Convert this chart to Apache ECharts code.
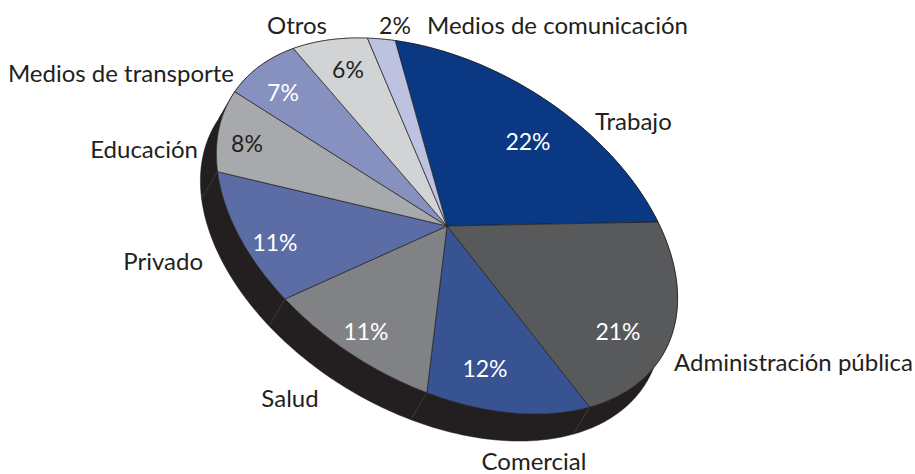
<!DOCTYPE html>
<html>
<head>
<meta charset="utf-8">
<script src="https://cdn.jsdelivr.net/npm/echarts@6/dist/echarts.min.js"></script>
<style>
html, body { margin: 0; padding: 0; background: #fff; }
#main { width: 915px; height: 474px; }
text { font-variant-numeric: oldstyle-nums; font-feature-settings: "onum" 1; }
</style>
</head>
<body>
<div id="main"></div>
<script>
var categories = ['Trabajo', 'Administración pública', 'Comercial', 'Salud', 'Privado', 'Educación', 'Medios de transporte', 'Otros', 'Medios de comunicación'];
var values = [22, 21, 12, 11, 11, 8, 7, 6, 2];

var colors = ['#0a3882', '#58595b', '#375392', '#808285', '#5c6ca5', '#a7a9ac', '#8791bf', '#d1d3d4', '#bcc2e0'];
var percentColors = ['#fff', '#fff', '#fff', '#fff', '#fff', '#231f20', '#fff', '#231f20', '#231f20'];
var percentAt = [[528, 141], [618, 331], [485, 368], [366, 331], [275, 242], [247, 143], [283, 92], [348, 69], [395, 25]];
// [x, y, align]
var nameAt = [[595, 120, 'left'], [674, 361, 'left'], [534, 460, 'center'], [290, 397, 'center'], [203, 260, 'right'], [198, 148, 'right'], [234, 72, 'right'], [297, 24, 'center'], [427, 24, 'left']];

// the tilted disc is the unit circle pushed through these two vectors
var center = [447, 226];
var axisU = [211, -4];
var axisV = [93, 188];
var depth = [-16, 27];
var startPct = -22;
var sideColor = '#231f20';
var nameFont = '24px Lato';
var percentFont = '23px Lato';

var total = values.reduce(function(a, b) { return a + b; }, 0);

function discPoint(pct, shift) {
    var t = pct / total * Math.PI * 2;
    var x = center[0] + axisU[0] * Math.cos(t) + axisV[0] * Math.sin(t);
    var y = center[1] + axisU[1] * Math.cos(t) + axisV[1] * Math.sin(t);
    return shift ? [x + depth[0], y + depth[1]] : [x, y];
}

function arcPoints(from, to, shift) {
    var pts = [];
    var steps = Math.max(4, Math.round((to - from) * 4));
    for (var i = 0; i <= steps; i++) {
        pts.push(discPoint(from + (to - from) * i / steps, shift));
    }
    return pts;
}

function sliceRange(idx) {
    var from = startPct;
    for (var i = 0; i < idx; i++) from += values[i];
    return [from, from + values[idx]];
}

function renderSide(params, api) {
    var r = sliceRange(params.dataIndex);
    var pts = arcPoints(r[0], r[1], false).concat(arcPoints(r[0], r[1], true).reverse());
    var a = discPoint(r[0], false);
    var b = discPoint(r[0], true);
    return {
        type: 'group',
        children: [{
            type: 'polygon',
            shape: { points: pts },
            style: { fill: sideColor, stroke: sideColor, lineWidth: 0.5 }
        }, {
            type: 'line',
            shape: { x1: a[0], y1: a[1], x2: b[0], y2: b[1] },
            style: { stroke: '#45423f', lineWidth: 0.5 }
        }]
    };
}

function renderTop(params, api) {
    var i = params.dataIndex;
    var r = sliceRange(i);
    var pts = [center].concat(arcPoints(r[0], r[1], false));
    return {
        type: 'group',
        children: [{
            type: 'polygon',
            shape: { points: pts },
            style: { fill: colors[i], stroke: '#231f20', lineWidth: 0.7 }
        }]
    };
}

function renderText(params, api) {
    var i = params.dataIndex;
    return {
        type: 'group',
        children: [{
            type: 'text',
            style: {
                x: percentAt[i][0],
                y: percentAt[i][1],
                text: api.value(0) + '%',
                fill: percentColors[i],
                font: percentFont,
                align: 'center',
                verticalAlign: 'middle'
            }
        }, {
            type: 'text',
            style: {
                x: nameAt[i][0],
                y: nameAt[i][1],
                text: categories[i],
                fill: '#231f20',
                font: nameFont,
                align: nameAt[i][2],
                verticalAlign: 'middle'
            }
        }]
    };
}

var chart = echarts.init(document.getElementById('main'), null, { renderer: 'svg' });

chart.setOption({
    backgroundColor: '#fff',
    animation: false,
    series: [{
        type: 'custom',
        coordinateSystem: 'none',
        z: 1,
        renderItem: renderSide,
        data: values
    }, {
        type: 'custom',
        coordinateSystem: 'none',
        z: 2,
        renderItem: renderTop,
        data: values
    }, {
        type: 'custom',
        coordinateSystem: 'none',
        z: 3,
        renderItem: renderText,
        data: values
    }]
});
</script>
</body>
</html>
